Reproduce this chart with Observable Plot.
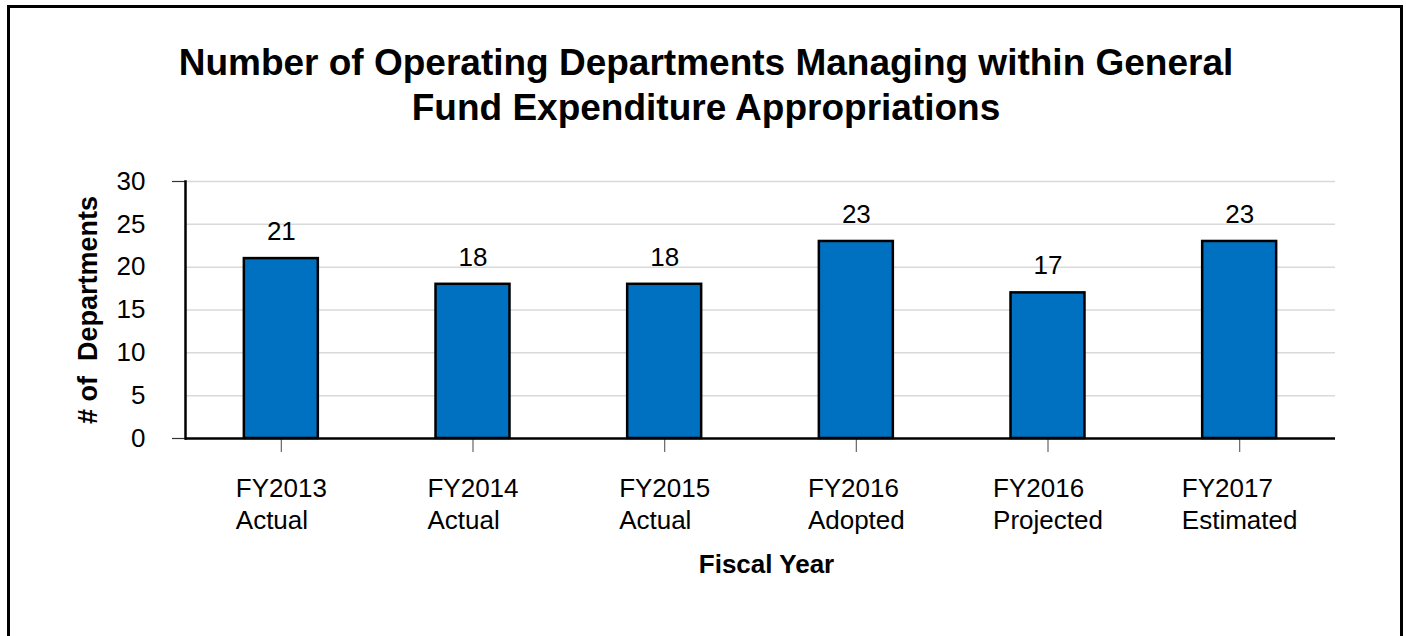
<!DOCTYPE html>
<html>
<head>
<meta charset="utf-8">
<script src="https://cdn.jsdelivr.net/npm/d3@7"></script>
<script src="https://cdn.jsdelivr.net/npm/@observablehq/plot@0.6"></script>
<style>
  html, body { margin: 0; padding: 0; background: #fff; overflow: hidden; }
  #wrap { position: relative; width: 1406px; height: 636px; overflow: hidden; font-family: "Liberation Sans", Arial, sans-serif; }
  #border { position: absolute; left: 7px; top: 5px; width: 1390px; height: 700px; border: 3px solid #000; }
  #title { position: absolute; left: 106px; width: 1200px; top: 40px; text-align: center; font-weight: bold; font-size: 37px; line-height: 45px; color: #000; white-space: nowrap; }
  #chart { position: absolute; left: 0; top: 150px; }
</style>
</head>
<body>
<div id="wrap">
  <div id="border"></div>
  <div id="title">Number of Operating Departments Managing within General<br>Fund Expenditure Appropriations</div>
  <div id="chart"></div>
</div>
<script>
const years = ["FY2013", "FY2014", "FY2015", "FY2016", "FY2016", "FY2017"];
const stages = ["Actual", "Actual", "Actual", "Adopted", "Projected", "Estimated"];
const values = [21, 18, 18, 23, 17, 23];
const yTicks = [0, 5, 10, 15, 20, 25, 30];
const yTitle = "# of  Departments";
const xTitle = "Fiscal Year";

const categories = years.map((y, i) => y + "\n" + stages[i]);
const data = categories.map((c, i) => ({cat: c, year: years[i], stage: stages[i], value: values[i]}));

const FONT = '"Liberation Sans", Arial, sans-serif';
const FS = 26;
const measure = document.createElement("canvas").getContext("2d");
measure.font = `${FS}px ${FONT}`;

const plot = Plot.plot({
  width: 1406,
  height: 486,
  marginTop: 31,
  marginBottom: 198,
  marginLeft: 185,
  marginRight: 71,
  style: {fontFamily: FONT, color: "#000", background: "transparent", overflow: "visible"},
  x: {domain: categories, paddingInner: 0.614, paddingOuter: 0.307, round: false, axis: null},
  y: {domain: [0, 30], axis: null},
  marks: [
    Plot.gridY(yTicks.filter(d => d > 0), {stroke: "#d9d9d9", strokeOpacity: 1, strokeWidth: 1.5}),
    Plot.axisY({ticks: yTicks, tickSize: 0, tickPadding: 40, fontSize: FS, label: null}),
    Plot.axisY({ticks: [0, 30], tickSize: 13, tickFormat: () => "", label: null, stroke: "#333", strokeWidth: 1.2}),
    Plot.axisX({tickSize: 14, tickFormat: () => "", label: null, stroke: "#666", strokeWidth: 1.2}),
    Plot.barY(data, {x: "cat", y: "value", fill: "#0070C0", stroke: "#000", strokeWidth: 2.5}),
    Plot.ruleY([0], {stroke: "#000", strokeWidth: 2.5}),
    Plot.frame({anchor: "left", stroke: "#000", strokeWidth: 2.5}),
    Plot.text(data, {x: "cat", y: "value", text: d => String(d.value), dy: -27, fontSize: FS, fill: "#000"}),
    Plot.text(data, {
      x: "cat", text: "cat", frameAnchor: "bottom", dy: 36, lineAnchor: "top",
      textAnchor: "start", lineHeight: 32 / FS, fontSize: FS, fill: "#000",
      render(index, scales, vals, dims, ctx, next) {
        const g = next(index, scales, vals, dims, ctx);
        g.querySelectorAll("text").forEach((t, j) => {
          const i = index[j];
          const w = Math.max(measure.measureText(data[i].year).width, measure.measureText(data[i].stage).width);
          t.setAttribute("transform", `translate(${-w / 2},0) ` + (t.getAttribute("transform") || ""));
        });
        return g;
      }
    }),
    Plot.text([yTitle], {frameAnchor: "left", dx: -97, rotate: -90, textAnchor: "middle", lineAnchor: "middle", fontSize: 27, fontWeight: "bold", fill: "#000"}),
    Plot.text([xTitle], {frameAnchor: "bottom", dy: 126, dx: 6, textAnchor: "middle", lineAnchor: "middle", fontSize: 26, fontWeight: "bold", fill: "#000"})
  ]
});
document.getElementById("chart").appendChild(plot);
</script>
</body>
</html>
